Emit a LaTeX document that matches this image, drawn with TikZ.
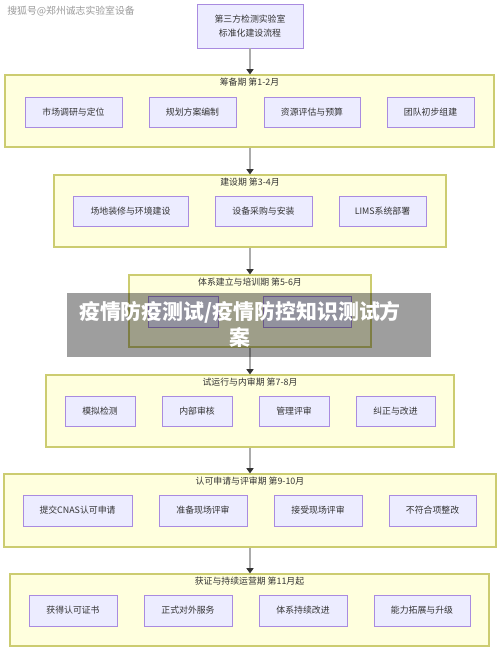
\documentclass[tikz,border=0pt]{standalone}
\usepackage{fontspec}
\setmainfont{Noto Sans CJK SC}
\usetikzlibrary{arrows.meta}
\definecolor{lcText}{HTML}{333333}
\definecolor{lcStepFill}{HTML}{ECECFF}
\definecolor{lcStepLine}{HTML}{A98BE0}
\definecolor{lcPhaseFill}{HTML}{FFFFDE}
\definecolor{lcPhaseLine}{HTML}{CCCC70}
\definecolor{lcArrow}{HTML}{ABABAB}
\definecolor{lcHead}{HTML}{333333}
\definecolor{lcMark}{HTML}{9A9A9A}
\newcommand{\lcUnit}{0.02cm}
\newcommand{\lcStepHeight}{30}
\newcommand{\lcPhaseHeight}{72}
\newcommand{\lcTitleDrop}{-0.155cm}
\tikzset{
  lc base/.style={font=\fontsize{5.05}{7.9}\selectfont, text=lcText, inner sep=0pt},
  lc size/.style 2 args={minimum width=#1*\lcUnit, minimum height=#2*\lcUnit},
  lc arrow/.style={draw=lcArrow, line width=0.7pt,
    -{Triangle[length=3pt,width=4pt,color=lcHead]}},
  lc start/.style={draw=lcStepLine, fill=lcStepFill, line width=0.5pt,
    align=center, rectangle},
  lc step/.style={draw=lcStepLine, fill=lcStepFill, line width=0.5pt,
    align=center, rectangle},
  lc phase/.style={draw=lcPhaseLine, fill=lcPhaseFill, line width=0.6pt,
    rectangle},
  lc phase title/.style={anchor=center},
  lc mark/.style={text=lcMark, font=\fontsize{5.6}{7}\selectfont, anchor=west},
  lc band/.style={fill=black, fill opacity=0.38, text opacity=1},
  lc band text/.style={text=white, align=center,
    font=\fontsize{11.9}{14.7}\selectfont\bfseries},
}

\begin{document}
\begin{tikzpicture}[
    lc base,
    x=\lcUnit, y=-\lcUnit,
    start/.style={lc start},
    step box/.style={lc step},
    phase/.style={lc phase},
    arrow/.style={lc arrow}
]
\useasboundingbox (0,0) rectangle (500,651);

\node (mark) [lc mark] at (7,11) {搜狐号@郑州诚志实验室设备};

\node (start) [start, lc size={106}{44}] at (250,26)
  {第三方检测实验室\\标准化建设流程};

\node (ph1) [phase, lc size={489}{\lcPhaseHeight}] at (249.5,111) {};
\node (ph1t) [lc phase title] at ([yshift=\lcTitleDrop]ph1.north) {筹备期 第1-2月};
\node (s11) [step box, lc size={97}{\lcStepHeight}] at (73.5,112) {市场调研与定位};
\node (s12) [step box, lc size={87}{\lcStepHeight}] at (192.5,112) {规划方案编制};
\node (s13) [step box, lc size={96}{\lcStepHeight}] at (312,112) {资源评估与预算};
\node (s14) [step box, lc size={87}{\lcStepHeight}] at (430.5,112) {团队初步组建};

\node (ph2) [phase, lc size={392}{\lcPhaseHeight}] at (250,211) {};
\node (ph2t) [lc phase title] at ([yshift=\lcTitleDrop]ph2.north) {建设期 第3-4月};
\node (s21) [step box, lc size={115}{\lcStepHeight}] at (130.5,211) {场地装修与环境建设};
\node (s22) [step box, lc size={97}{\lcStepHeight}] at (263.5,211) {设备采购与安装};
\node (s23) [step box, lc size={87}{\lcStepHeight}] at (382.5,211) {LIMS系统部署};

\node (ph3) [phase, lc size={242}{\lcPhaseHeight}] at (250,311) {};
\node (ph3t) [lc phase title] at ([yshift=\lcTitleDrop]ph3.north) {体系建立与培训期 第5-6月};
\node (s31) [step box, lc size={70}{31}] at (183,311.5) {};
\node (s32) [step box, lc size={88}{31}] at (307,311.5) {};

\node (ph4) [phase, lc size={408}{\lcPhaseHeight}] at (250,411) {};
\node (ph4t) [lc phase title] at ([yshift=\lcTitleDrop]ph4.north) {试运行与内审期 第7-8月};
\node (s41) [step box, lc size={70}{\lcStepHeight}] at (100,411) {模拟检测};
\node (s42) [step box, lc size={70}{\lcStepHeight}] at (197,411) {内部审核};
\node (s43) [step box, lc size={70}{\lcStepHeight}] at (294,411) {管理评审};
\node (s44) [step box, lc size={79}{\lcStepHeight}] at (395.5,411) {纠正与改进};

\node (ph5) [phase, lc size={492}{73}] at (250,510.5) {};
\node (ph5t) [lc phase title] at ([yshift=\lcTitleDrop]ph5.north) {认可申请与评审期 第9-10月};
\node (s51) [step box, lc size={109}{31}] at (77.5,510.5) {提交CNAS认可申请};
\node (s52) [step box, lc size={88}{31}] at (203,510.5) {准备现场评审};
\node (s53) [step box, lc size={88}{31}] at (318,510.5) {接受现场评审};
\node (s54) [step box, lc size={87}{31}] at (432.5,510.5) {不符合项整改};

\node (ph6) [phase, lc size={479}{\lcPhaseHeight}] at (249.5,610) {};
\node (ph6t) [lc phase title] at ([yshift=\lcTitleDrop]ph6.north) {获证与持续运营期 第11月起};
\node (s61) [step box, lc size={88}{31}] at (73,610.5) {获得认可证书};
\node (s62) [step box, lc size={88}{31}] at (188,610.5) {正式对外服务};
\node (s63) [step box, lc size={88}{31}] at (303,610.5) {体系持续改进};
\node (s64) [step box, lc size={96}{31}] at (422,610.5) {能力拓展与升级};

\draw [arrow] (start.south) -- (start.south |- ph1.north);
\draw [arrow] (ph1.south -| start.south) -- (start.south |- ph2.north);
\draw [arrow] (ph2.south -| start.south) -- (start.south |- ph3.north);
\draw [arrow] (ph3.south -| start.south) -- (start.south |- ph4.north);
\draw [arrow] (ph4.south -| start.south) -- (start.south |- ph5.north);
\draw [arrow] (ph5.south -| start.south) -- (start.south |- ph6.north);

\node (band) [lc band, lc size={364}{64}] at (249,325) {};
\node (bandtext) [lc band text] at (240,324)
  {疫情防疫测试/疫情防控知识测试方\\案};
\end{tikzpicture}
\end{document}
